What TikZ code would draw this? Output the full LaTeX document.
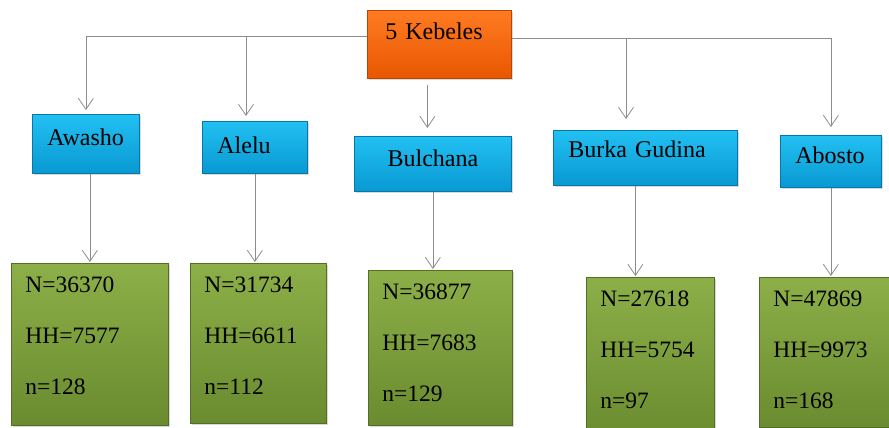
\documentclass[tikz,border=0pt]{standalone}
\usepackage{fontspec}
\setmainfont{Liberation Serif}
\usetikzlibrary{arrows.meta,shadows}

\definecolor{ortop}{HTML}{FF7B22}
\definecolor{orbot}{HTML}{E85700}
\definecolor{oredge}{HTML}{B84500}
\definecolor{bltop}{HTML}{22C0F2}
\definecolor{blbot}{HTML}{0899D2}
\definecolor{bledge}{HTML}{0A76A6}
\definecolor{grtop}{HTML}{8DAF48}
\definecolor{grbot}{HTML}{6A8B2F}
\definecolor{gredge}{HTML}{536F25}
\definecolor{linkgray}{HTML}{8C8C8C}

\tikzset{
  boxbase/.style={anchor=north west, inner ysep=0pt, line width=0.8pt,
    drop shadow={opacity=0.3, shadow xshift=2pt, shadow yshift=-2pt}},
  kebox/.style={boxbase, draw=oredge, top color=ortop, bottom color=orbot},
  namebox/.style={boxbase, draw=bledge, top color=bltop, bottom color=blbot,
    inner xsep=15pt, align=left},
  numbox/.style={boxbase, draw=gredge, top color=grtop, bottom color=grbot,
    inner xsep=14pt, align=left, text height=29pt,
    font=\fontsize{23.5}{51}\selectfont},
  link/.style={draw=linkgray, line width=0.8pt, -{Straight Barb[length=11pt,width=15pt]}}
}

\begin{document}
\begin{tikzpicture}[x=1pt, y=-1pt, font=\fontsize{24}{28}\selectfont]
\clip (0,0) rectangle (889,428);

\node[kebox, inner xsep=18pt, text width=108pt, align=left, text height=29pt, text depth=39pt](keb) at (367,10) {5 Kebeles};

\node[namebox, text width=77pt, text height=31pt, text depth=28pt](aw) at (32,114) {Awasho};
\node[namebox, text width=75pt, text height=32pt, text depth=20pt](al) at (202,121) {Alelu};
\node[namebox, text width=127pt, align=center, text height=30pt, text depth=25pt](bu) at (354,136) {Bulchana};
\node[namebox, text width=154pt, text height=27pt, text depth=28pt](bg) at (553,130) {Burka Gudina};
\node[namebox, text width=71pt, text height=28pt, text depth=24pt](ab) at (780,135) {Abosto};

\node[numbox, text width=129pt, text depth=133pt](g1) at (11,263) {N=36370\\HH=7577\\n=128};
\node[numbox, text width=108pt, text depth=131pt](g2) at (190,263) {N=31734\\HH=6611\\n=112};
\node[numbox, text width=116pt, text depth=126pt](g3) at (368,270) {N=36877\\HH=7683\\n=129};
\node[numbox, text width=100pt, text depth=133pt](g4) at (586,277) {N=27618\\HH=5754\\n=97};
\node[numbox, text width=107pt, text depth=121pt](g5) at (759,277) {N=47869\\HH=9973\\n=168};

\coordinate (jal) at (246,36);
\coordinate (jbg) at (626,38);
\coordinate (jbu) at ([xshift=-12pt, yshift=-6pt]keb.south);

\draw[link, shorten >=4pt] ([yshift=8pt]keb.west) -| (aw.north);
\draw[link, shorten >=5pt] (jal) -- (jal |- al.north);
\draw[link, shorten >=8pt] (jbu) -- (jbu |- bu.north);
\draw[link, shorten >=11pt] (jbg) -- (jbg |- bg.north);
\draw[link, shorten >=8pt] ([yshift=6pt]keb.east) -| (ab.north);

\draw[link, shorten >=1pt] (aw.south -| g1.north) -- (g1.north);
\draw[link, shorten >=1pt] (al.south) -- (al.south |- g2.north);
\draw[link, shorten >=1pt] (bu.south) -- (bu.south |- g3.north);
\draw[link, shorten >=1pt] ([xshift=-10pt]bg.south) -- ([xshift=-10pt]bg.south |- g4.north);
\draw[link, shorten >=1pt] (ab.south) -- (ab.south |- g5.north);
\end{tikzpicture}
\end{document}
